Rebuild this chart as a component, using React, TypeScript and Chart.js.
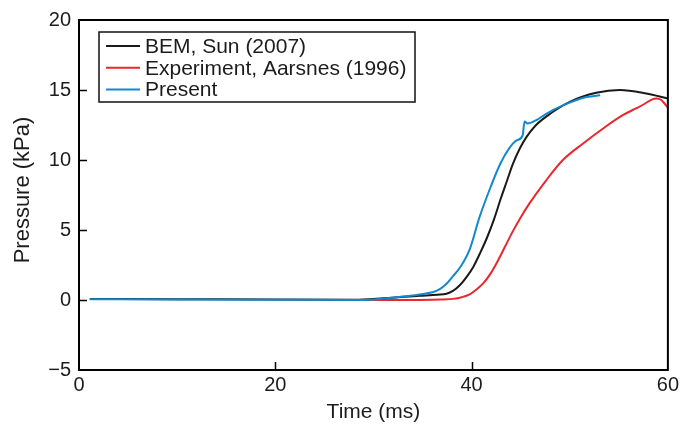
import React, { useEffect, useRef } from 'react';
import { Chart, registerables } from 'chart.js';

Chart.register(...registerables);

// ---------- data ----------
const seriesLabels = ['BEM, Sun (2007)', 'Experiment, Aarsnes (1996)', 'Present'];

const bemTime = [1.1, 10, 20, 28, 31, 34.7, 36.5, 37.45, 38.1, 38.8, 39.5, 40.2, 40.9, 41.6, 42.3, 43.0, 43.6, 44.2, 44.9, 45.6, 46.5, 47.6, 50, 52.7, 55.1, 57.8, 60];
const bemPressure = [0.08, 0.06, 0.03, 0.02, 0.12, 0.3, 0.38, 0.45, 0.65, 1.05, 1.65, 2.4, 3.4, 4.5, 5.8, 7.3, 8.5, 9.7, 10.8, 11.65, 12.45, 13.1, 14.15, 14.8, 15.0, 14.75, 14.4];

const expTime = [28, 34.7, 37, 38.1, 39, 39.8, 40.5, 41.2, 41.9, 42.6, 43.4, 44.2, 45.0, 45.9, 47.6, 49.3, 51.4, 53.4, 55.4, 56.8, 57.6, 58.3, 58.85, 59.3, 59.7, 60];
const expPressure = [0, 0, 0.03, 0.08, 0.2, 0.4, 0.75, 1.2, 1.85, 2.7, 3.8, 4.9, 5.9, 6.9, 8.55, 10.0, 11.2, 12.25, 13.2, 13.7, 14.0, 14.3, 14.4, 14.3, 14.0, 13.75];

const presentTime = [1.1, 10, 20, 29, 31, 33, 34.7, 36, 36.8, 37.5, 38.1, 38.8, 39.8, 40.8, 41.9, 42.9, 43.9, 44.6, 45.2, 45.4, 45.7, 46.6, 47.6, 49.3, 51.4, 53.1];
const presentPressure = [0.05, 0.04, 0.02, 0.0, 0.1, 0.25, 0.4, 0.55, 0.8, 1.2, 1.7, 2.3, 3.6, 5.9, 8.0, 9.7, 10.9, 11.4, 11.75, 12.75, 12.6, 12.85, 13.3, 13.9, 14.45, 14.63];

const xTickValues = [0, 20, 40, 60];
const yTickValues = [-5, 0, 5, 10, 15, 20];

const xTitle = 'Time (ms)';
const yTitle = 'Pressure (kPa)';

// ---------- styles ----------
const FONT = '"Liberation Sans", Arial, Helvetica, sans-serif';
const TEXT = '#1c1c1c';
const COLORS = ['#1a1a1a', '#e8282d', '#1488cc'];

const toPoints = (xs: number[], ys: number[]) => xs.map((x, i) => ({ x, y: ys[i] }));

const framePlugin = {
  id: 'frameTicksLegend',
  afterDraw(chart: any) {
    const { ctx, chartArea } = chart;
    const xs = chart.scales.x;
    const ys = chart.scales.y;
    ctx.save();
    // inward ticks
    ctx.strokeStyle = '#000';
    ctx.lineWidth = 1.5;
    const tl = 8;
    ctx.beginPath();
    yTickValues.forEach((v) => {
      const py = Math.round(ys.getPixelForValue(v)) + 0.5;
      if (py > chartArea.top + 2 && py < chartArea.bottom - 2) {
        ctx.moveTo(chartArea.left, py);
        ctx.lineTo(chartArea.left + tl, py);
      }
    });
    xTickValues.forEach((v) => {
      const px = Math.round(xs.getPixelForValue(v)) + 0.5;
      if (px > chartArea.left + 2 && px < chartArea.right - 2) {
        ctx.moveTo(px, chartArea.bottom);
        ctx.lineTo(px, chartArea.bottom - tl);
      }
    });
    ctx.stroke();
    // frame
    ctx.lineWidth = 2;
    ctx.strokeRect(chartArea.left, chartArea.top, chartArea.right - chartArea.left, chartArea.bottom - chartArea.top);

    // y-axis title
    ctx.save();
    ctx.translate(23, (chartArea.top + chartArea.bottom) / 2 - 5);
    ctx.rotate(-Math.PI / 2);
    ctx.font = `22px ${FONT}`;
    ctx.fillStyle = TEXT;
    ctx.textAlign = 'center';
    ctx.textBaseline = 'middle';
    ctx.fillText(yTitle, 0, 0);
    ctx.restore();

    // legend box
    const bx = chartArea.left + 20;
    const by = chartArea.top + 12;
    const bw = 316;
    const bh = 70;
    ctx.fillStyle = '#fff';
    ctx.fillRect(bx, by, bw, bh);
    ctx.lineWidth = 1.5;
    ctx.strokeStyle = '#111';
    ctx.strokeRect(bx, by, bw, bh);
    ctx.font = `21px ${FONT}`;
    ctx.textBaseline = 'middle';
    ctx.textAlign = 'left';
    chart.data.datasets.forEach((ds: any, i: number) => {
      const ry = by + 14 + i * 21.8;
      ctx.strokeStyle = ds.borderColor;
      ctx.lineWidth = 2;
      ctx.beginPath();
      ctx.moveTo(bx + 7, ry);
      ctx.lineTo(bx + 41, ry);
      ctx.stroke();
      ctx.fillStyle = TEXT;
      ctx.fillText(ds.label, bx + 46, ry + 1);
    });
    ctx.restore();
  },
};

export default function App() {
  const ref = useRef<HTMLCanvasElement | null>(null);

  useEffect(() => {
    if (!ref.current) return;
    const fmt = (v: number) => (v < 0 ? '\u2212' + Math.abs(v) : String(v));
    const chart = new Chart(ref.current, {
      type: 'line',
      data: {
        datasets: [
          { label: seriesLabels[0], data: toPoints(bemTime, bemPressure), borderColor: COLORS[0], order: 1 },
          { label: seriesLabels[1], data: toPoints(expTime, expPressure), borderColor: COLORS[1], order: 2 },
          { label: seriesLabels[2], data: toPoints(presentTime, presentPressure), borderColor: COLORS[2], order: 0 },
        ],
      },
      options: {
        responsive: false,
        maintainAspectRatio: false,
        devicePixelRatio: 1,
        animation: false,
        parsing: false as any,
        layout: { padding: { left: 0, right: 14, top: 20, bottom: 0 } },
        elements: {
          point: { radius: 0, hoverRadius: 0 },
          line: { borderWidth: 2, fill: false, cubicInterpolationMode: 'monotone' },
        },
        plugins: {
          legend: { display: false },
          tooltip: { enabled: false },
        },
        scales: {
          x: {
            type: 'linear',
            min: 0,
            max: 60,
            afterBuildTicks: (s: any) => {
              s.ticks = xTickValues.map((v) => ({ value: v }));
            },
            afterFit: (s: any) => {
              s.height = 63;
            },
            grid: { display: false, drawTicks: false },
            border: { display: false },
            ticks: {
              padding: 3,
              autoSkip: false,
              maxRotation: 0,
              color: TEXT,
              font: { family: FONT, size: 20 },
              callback: (v: any) => fmt(Number(v)),
            },
            title: {
              display: true,
              text: xTitle,
              color: TEXT,
              font: { family: FONT, size: 21 },
              padding: { top: 0, bottom: 8 },
            },
          },
          y: {
            type: 'linear',
            min: -5,
            max: 20,
            afterBuildTicks: (s: any) => {
              s.ticks = yTickValues.map((v) => ({ value: v }));
            },
            afterFit: (s: any) => {
              s.width = 79;
            },
            grid: { display: false, drawTicks: false },
            border: { display: false },
            ticks: {
              padding: 8,
              autoSkip: false,
              color: TEXT,
              font: { family: FONT, size: 20 },
              callback: (v: any) => fmt(Number(v)),
            },
            title: { display: false },
          },
        },
      },
      plugins: [framePlugin],
    });
    return () => chart.destroy();
  }, []);

  return (
    <div style={{ position: 'absolute', left: 0, top: 0, width: 682, height: 433 }}>
      <canvas ref={ref} width={682} height={433} style={{ display: 'block', width: 682, height: 433 }} />
    </div>
  );
}
